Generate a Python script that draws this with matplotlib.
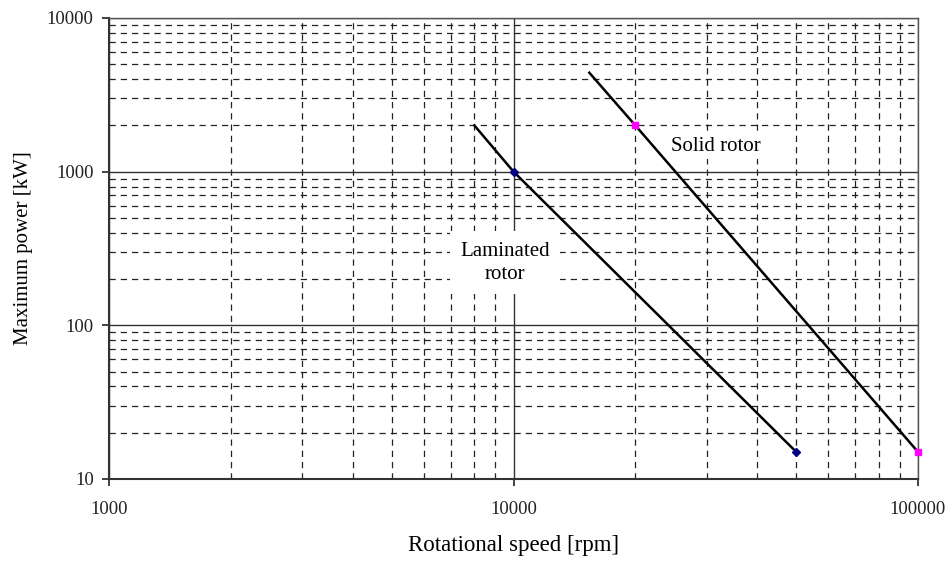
import numpy as np
import matplotlib
matplotlib.use('Agg')
import matplotlib.pyplot as plt
from matplotlib.ticker import LogLocator, FixedLocator, NullFormatter

plt.rcParams['font.family'] = ['Liberation Serif', 'DejaVu Serif']

# Data
lam_line_x = [8000, 10000, 50000]
lam_line_y = [2000, 1000, 15]
lam_pts_x = [10000, 50000]
lam_pts_y = [1000, 15]

solid_line_x = [15400, 20000, 100000]
solid_line_y = [4400, 2000, 15]
solid_pts_x = [20000, 100000]
solid_pts_y = [2000, 15]

x_ticks = [1000, 10000, 100000]
y_ticks = [10, 100, 1000, 10000]

fig = plt.figure(figsize=(9.52, 5.61), dpi=100)
ax = fig.add_axes([0.1145, 0.1462, 0.8498, 0.8218])

ax.set_xscale('log')
ax.set_yscale('log')
ax.set_xlim(1000, 100000)
ax.set_ylim(10, 10000)

# grid: solid at decades, dashed in between
ax.xaxis.set_major_locator(FixedLocator(x_ticks))
ax.yaxis.set_major_locator(FixedLocator(y_ticks))
ax.xaxis.set_minor_locator(LogLocator(base=10, subs=np.arange(2, 10)))
ax.yaxis.set_minor_locator(LogLocator(base=10, subs=np.arange(2, 10)))
ax.xaxis.set_minor_formatter(NullFormatter())
ax.yaxis.set_minor_formatter(NullFormatter())
ax.set_xticklabels([str(v) for v in x_ticks])
ax.set_yticklabels([str(v) for v in y_ticks])

ax.grid(which='major', color='#333333', linewidth=1.0, linestyle='-')
ax.grid(which='minor', color='#222222', linewidth=0.9, linestyle=(0, (5, 4)))
ax.set_axisbelow(True)

ax.tick_params(which='major', direction='out', length=5, width=1.2,
               labelsize=13.5, pad=6, colors='#222222')
ax.tick_params(axis='x', which='major', pad=11)
ax.tick_params(which='minor', length=0)

for side in ['top', 'right']:
    ax.spines[side].set_color('#555555')
    ax.spines[side].set_linewidth(1.0)
for side in ['left', 'bottom']:
    ax.spines[side].set_color('#333333')
    ax.spines[side].set_linewidth(1.5)

# lines
ax.plot(lam_line_x, lam_line_y, color='black', linewidth=1.8, zorder=3)
ax.plot(solid_line_x, solid_line_y, color='black', linewidth=1.8, zorder=3)

# markers
ax.plot(lam_pts_x, lam_pts_y, 'D', color='#000080', markersize=4,
        linestyle='none', zorder=4, clip_on=False)
ax.plot(solid_pts_x, solid_pts_y, 's', color='#FF00FF', markersize=5,
        linestyle='none', zorder=4, clip_on=False)

# labels on the chart
ax.text(9530, 255, 'Laminated\nrotor', ha='center', va='center', fontsize=15,
        linespacing=1.3, zorder=2,
        bbox=dict(boxstyle='square,pad=0.5', facecolor='white', edgecolor='none'))
ax.text(31700, 1450, 'Solid rotor', ha='center', va='center', fontsize=15,
        zorder=2,
        bbox=dict(boxstyle='square,pad=0.15', facecolor='white', edgecolor='none'))

ax.set_xlabel('Rotational speed [rpm]', fontsize=16.5, labelpad=12)
ax.set_ylabel('Maximum power [kW]', fontsize=15, labelpad=10)

fig.savefig('out.png', dpi=100, facecolor='white')
